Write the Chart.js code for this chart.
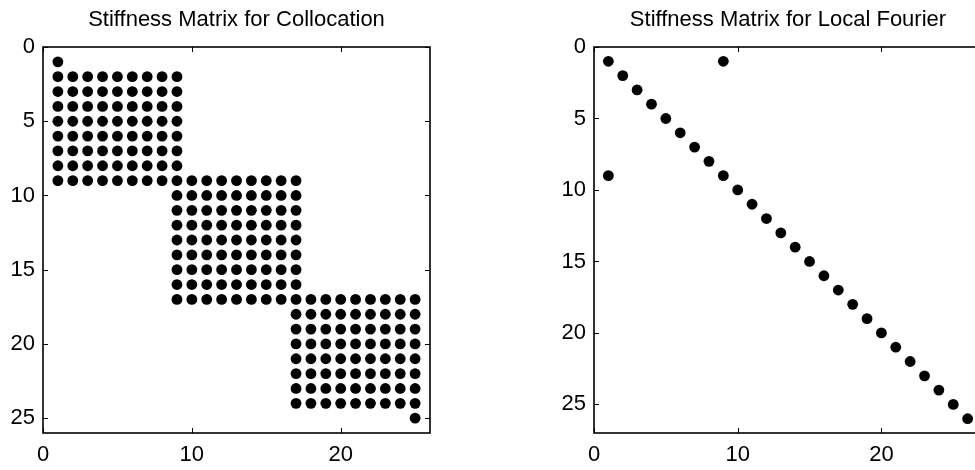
<!DOCTYPE html>
<html>
<head>
<meta charset="utf-8">
<script src="https://cdn.jsdelivr.net/npm/chart.js@4/dist/chart.umd.min.js"></script>
<style>
  html, body { margin: 0; padding: 0; background: #fff; overflow: hidden; width: 975px; height: 470px; }
  canvas { position: absolute; top: 0; }
  #spyLeft { left: 0; }
  #spyRight { left: 540px; }
</style>
</head>
<body>
<canvas id="spyLeft" width="473" height="470"></canvas>
<canvas id="spyRight" width="496" height="470"></canvas>
<script>
// Collocation matrix (25x25): for each row 1..25, first and last nonzero column
const collocationColFrom = [1, 1, 1, 1, 1, 1, 1, 1, 1, 9, 9, 9, 9, 9, 9, 9, 9, 17, 17, 17, 17, 17, 17, 17, 25];
const collocationColTo   = [1, 9, 9, 9, 9, 9, 9, 9, 17, 17, 17, 17, 17, 17, 17, 17, 25, 25, 25, 25, 25, 25, 25, 25, 25];

// Local Fourier matrix (26x26): nonzero entries as row / column pairs
const fourierRows = [1, 2, 3, 4, 5, 6, 7, 8, 9, 10, 11, 12, 13, 14, 15, 16, 17, 18, 19, 20, 21, 22, 23, 24, 25, 26, 1, 9];
const fourierCols = [1, 2, 3, 4, 5, 6, 7, 8, 9, 10, 11, 12, 13, 14, 15, 16, 17, 18, 19, 20, 21, 22, 23, 24, 25, 26, 9, 1];

const xTickValues = [0, 10, 20];
const yTickValues = [0, 5, 10, 15, 20, 25];

const fontFamily = "'Liberation Sans', Arial, Helvetica, sans-serif";

// spy-style points for the collocation matrix
const collocationPoints = [];
collocationColFrom.forEach((from, i) => {
    for (let c = from; c <= collocationColTo[i]; c++) {
        collocationPoints.push({ x: c, y: i + 1 });
    }
});
const fourierPoints = fourierRows.map((r, i) => ({ x: fourierCols[i], y: r }));

// box with MATLAB-like inward ticks on all four sides
const framePlugin = {
    id: 'frame',
    afterDraw(chart) {
        const ctx = chart.ctx;
        const a = chart.chartArea;
        const len = 5;
        ctx.save();
        ctx.strokeStyle = '#000';
        ctx.lineWidth = 1;
        ctx.beginPath();
        xTickValues.forEach(v => {
            const px = Math.round(chart.scales.x.getPixelForValue(v)) + 0.5;
            ctx.moveTo(px, a.bottom); ctx.lineTo(px, a.bottom - len);
            ctx.moveTo(px, a.top); ctx.lineTo(px, a.top + len);
        });
        yTickValues.forEach(v => {
            const py = Math.round(chart.scales.y.getPixelForValue(v)) + 0.5;
            ctx.moveTo(a.left, py); ctx.lineTo(a.left + len, py);
            ctx.moveTo(a.right, py); ctx.lineTo(a.right - len, py);
        });
        ctx.stroke();
        ctx.lineWidth = 1.6;
        ctx.strokeRect(a.left, a.top, a.right - a.left, a.bottom - a.top);
        ctx.restore();
    }
};

function makeSpy(canvasId, title, points, size, yAxisWidth) {
    return new Chart(document.getElementById(canvasId), {
        type: 'scatter',
        data: {
            datasets: [{
                data: points,
                pointRadius: 5.4,
                pointHoverRadius: 5.4,
                backgroundColor: '#000',
                borderColor: '#000',
                borderWidth: 0,
                clip: false
            }]
        },
        options: {
            responsive: false,
            animation: false,
            events: [],
            layout: { padding: 0 },
            plugins: {
                legend: { display: false },
                tooltip: { enabled: false },
                title: {
                    display: true,
                    text: title,
                    color: '#000',
                    font: { family: fontFamily, size: 22, weight: 'normal' },
                    padding: { top: 7, bottom: 13.6 }
                }
            },
            scales: {
                x: {
                    type: 'linear',
                    min: 0,
                    max: size,
                    grid: { display: false, drawTicks: false },
                    border: { display: false },
                    afterBuildTicks: s => { s.ticks = xTickValues.map(v => ({ value: v })); },
                    afterFit: s => { s.height = 37; },
                    ticks: {
                        color: '#000',
                        padding: 9,
                        maxRotation: 0,
                        font: { family: fontFamily, size: 22 }
                    }
                },
                y: {
                    type: 'linear',
                    reverse: true,
                    min: 0,
                    max: size,
                    grid: { display: false, drawTicks: false },
                    border: { display: false },
                    afterBuildTicks: s => { s.ticks = yTickValues.map(v => ({ value: v })); },
                    afterFit: s => { s.width = yAxisWidth; },
                    ticks: {
                        color: '#000',
                        padding: 8,
                        font: { family: fontFamily, size: 22 }
                    }
                },
                // empty spacer on the right so the title sits centred over the box
                spacer: {
                    type: 'linear',
                    position: 'right',
                    min: 0,
                    max: size,
                    grid: { display: false, drawTicks: false },
                    border: { display: false },
                    ticks: { display: false },
                    afterFit: s => { s.width = yAxisWidth; }
                }
            }
        },
        plugins: [framePlugin]
    });
}

makeSpy('spyLeft', 'Stiffness Matrix for Collocation', collocationPoints, 26, 43);
makeSpy('spyRight', 'Stiffness Matrix for Local Fourier', fourierPoints, 27, 54);
</script>
</body>
</html>
